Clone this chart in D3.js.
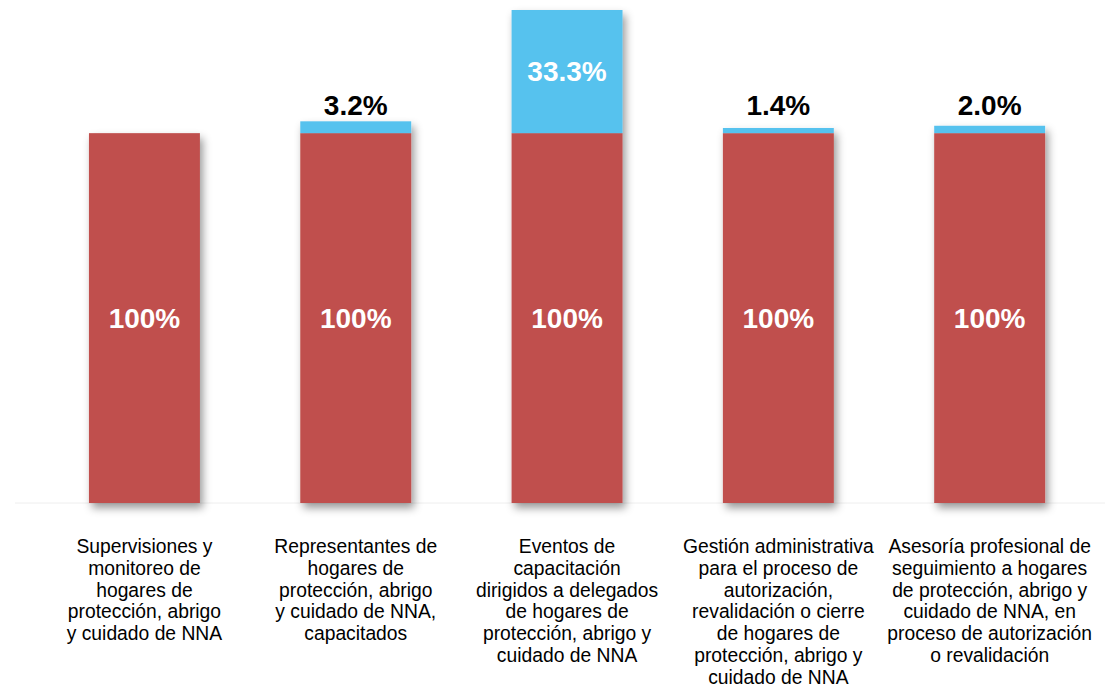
<!DOCTYPE html>
<html>
<head>
<meta charset="utf-8">
<script src="https://cdn.jsdelivr.net/npm/d3@7"></script>
<style>
  body { margin: 0; background: #fff; }
  svg { font-family: "Liberation Sans", Arial, sans-serif; }
</style>
</head>
<body>
<div id="chart"></div>
<script>
// categories (pre-wrapped as in the picture)
var categories = [
    ["Supervisiones y", "monitoreo de", "hogares de", "protección, abrigo", "y cuidado de NNA"],
    ["Representantes de", "hogares de", "protección, abrigo", "y cuidado de NNA,", "capacitados"],
    ["Eventos de", "capacitación", "dirigidos a delegados", "de hogares de", "protección, abrigo y", "cuidado de NNA"],
    ["Gestión administrativa", "para el proceso de", "autorización,", "revalidación o cierre", "de hogares de", "protección, abrigo y", "cuidado de NNA"],
    ["Asesoría profesional de", "seguimiento a hogares", "de protección, abrigo y", "cuidado de NNA, en", "proceso de autorización", "o revalidación"]
];
var baseValues = [100, 100, 100, 100, 100];
var extraValues = [0, 3.2, 33.3, 1.4, 2.0];
var baseLabels = ["100%", "100%", "100%", "100%", "100%"];
var extraLabels = ["", "3.2%", "33.3%", "1.4%", "2.0%"];

var W = 1118, H = 692;
var svg = d3.select("#chart").append("svg")
    .attr("width", W)
    .attr("height", H);

var defs = svg.append("defs");
var f = defs.append("filter")
    .attr("id", "shadow")
    .attr("x", "-40%").attr("y", "-10%")
    .attr("width", "180%").attr("height", "125%");
f.append("feDropShadow")
    .attr("dx", 3).attr("dy", 5)
    .attr("stdDeviation", 4)
    .attr("flood-color", "#000")
    .attr("flood-opacity", 0.4);

var x = d3.scaleBand()
    .domain(d3.range(categories.length))
    .range([-11.4, 1145.5])
    .paddingInner(0.475)
    .paddingOuter(0.475);

var y = d3.scaleLinear()
    .domain([0, 133.3])
    .range([503, 10]);

// baseline gridline
svg.append("line")
    .attr("x1", 15).attr("x2", 1105)
    .attr("y1", y(0)).attr("y2", y(0))
    .attr("stroke", "#eeeeee")
    .attr("stroke-width", 1);

var rows = categories.map(function (c, i) {
    return { i: i, base: baseValues[i], extra: extraValues[i] };
});

var bars = svg.selectAll(".bar")
    .data(rows)
    .enter()
    .append("g")
    .attr("class", "bar")
    .attr("filter", "url(#shadow)");

bars.append("rect")
    .attr("x", function (d) { return x(d.i); })
    .attr("width", x.bandwidth())
    .attr("y", function (d) { return y(d.base); })
    .attr("height", function (d) { return y(0) - y(d.base); })
    .attr("fill", "#C0504D");

bars.filter(function (d) { return d.extra > 0; })
    .append("rect")
    .attr("x", function (d) { return x(d.i); })
    .attr("width", x.bandwidth())
    .attr("y", function (d) { return y(d.base + d.extra); })
    .attr("height", function (d) { return y(d.base) - y(d.base + d.extra); })
    .attr("fill", "#57C2EE");

// value labels
svg.selectAll(".baseLabel")
    .data(rows)
    .enter()
    .append("text")
    .attr("x", function (d) { return x(d.i) + x.bandwidth() / 2; })
    .attr("y", function (d) { return y(d.base / 2); })
    .attr("dy", "0.35em")
    .attr("text-anchor", "middle")
    .attr("fill", "#fff")
    .attr("font-size", 28)
    .attr("font-weight", "bold")
    .text(function (d) { return baseLabels[d.i]; });

svg.selectAll(".extraLabel")
    .data(rows.filter(function (d) { return d.extra > 0; }))
    .enter()
    .append("text")
    .attr("x", function (d) { return x(d.i) + x.bandwidth() / 2; })
    .attr("text-anchor", "middle")
    .attr("font-size", 28)
    .attr("font-weight", "bold")
    .each(function (d) {
        var t = d3.select(this);
        var inside = (y(d.base) - y(d.base + d.extra)) > 40;
        if (inside) {
            t.attr("y", y(d.base + d.extra / 2)).attr("dy", "0.35em").attr("fill", "#fff");
        } else {
            t.attr("y", y(d.base) - 18).attr("fill", "#000");
        }
        t.text(extraLabels[d.i]);
    });

// category labels
var cat = svg.selectAll(".cat")
    .data(categories)
    .enter()
    .append("text")
    .attr("class", "cat")
    .attr("text-anchor", "middle")
    .attr("font-size", 19.3)
    .attr("fill", "#000")
    .attr("transform", function (d, i) {
        return "translate(" + (x(i) + x.bandwidth() / 2) + ",553)";
    });

cat.selectAll("tspan")
    .data(function (d) { return d; })
    .enter()
    .append("tspan")
    .attr("x", 0)
    .attr("y", function (d, j) { return j * 21.8; })
    .text(function (d) { return d; });
</script>
</body>
</html>
